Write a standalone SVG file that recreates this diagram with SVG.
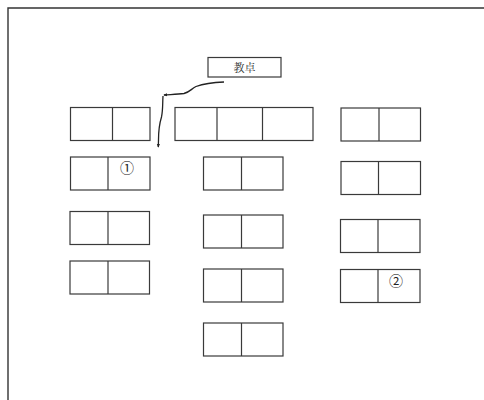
<svg xmlns="http://www.w3.org/2000/svg" width="484" height="400" viewBox="0 0 484 400">
<defs>
<marker id="ah" viewBox="0 0 10 10" refX="8" refY="5" markerWidth="4" markerHeight="4" orient="auto" markerUnits="userSpaceOnUse">
<path d="M0,1 L10,5 L0,9 Z" fill="#222"/>
</marker>
<style>
.d{fill:#fff;stroke:#3a3a3a;stroke-width:1.2}
.v{stroke:#3a3a3a;stroke-width:1.2}
.f{stroke:#333;stroke-width:1.4;fill:none}
.c{fill:none;stroke:#222;stroke-width:1.3}
.t{font-family:"Noto Serif CJK JP","Noto Sans CJK JP",serif;font-size:11px;fill:#333}
.n{font-family:"Noto Sans CJK JP",sans-serif;font-size:14px;fill:#222}
</style>
</defs>
<rect width="484" height="400" fill="#fff"/>
<g id="frame">
<path class="f" d="M8,400 L8,8 L484,8"/>
</g>
<g id="podium">
<rect class="d" x="208" y="57.5" width="73" height="19.5"/>
<text class="t" x="244.5" y="71.5" text-anchor="middle">教卓</text>
</g>
<g id="connectors">
<path class="c" d="M224,82 C212,82.5 203,84 196,86.5 C191,89 190,92 184,93.5 C177,94.5 170,94.5 164,95" marker-end="url(#ah)"/>
<path class="c" d="M163,96 C162.5,104 163,110 161.5,117 C159,125 158.5,132 158.5,140 L158.3,147" marker-end="url(#ah)"/>
</g>
<g id="desk-L1"><rect class="d" x="70.5" y="107.5" width="79.5" height="33"/><line class="v" x1="112.5" y1="107.5" x2="112.5" y2="140.5"/></g>
<g id="desk-L2"><rect class="d" x="70.5" y="157" width="79.5" height="33"/><line class="v" x1="108" y1="157" x2="108" y2="190"/><text class="n" x="127" y="173" text-anchor="middle">①</text></g>
<g id="desk-L3"><rect class="d" x="70" y="211.5" width="79.5" height="33"/><line class="v" x1="108" y1="211.5" x2="108" y2="244.5"/></g>
<g id="desk-L4"><rect class="d" x="70" y="261" width="79.5" height="33"/><line class="v" x1="108" y1="261" x2="108" y2="294"/></g>
<g id="desk-M1"><rect class="d" x="175" y="107.5" width="138" height="33"/><line class="v" x1="217" y1="107.5" x2="217" y2="140.5"/><line class="v" x1="262.5" y1="107.5" x2="262.5" y2="140.5"/></g>
<g id="desk-M2"><rect class="d" x="203.5" y="157" width="79.5" height="33"/><line class="v" x1="241.5" y1="157" x2="241.5" y2="190"/></g>
<g id="desk-M3"><rect class="d" x="203.5" y="215" width="79.5" height="33"/><line class="v" x1="241.5" y1="215" x2="241.5" y2="248"/></g>
<g id="desk-M4"><rect class="d" x="203.5" y="269" width="79.5" height="33"/><line class="v" x1="241.5" y1="269" x2="241.5" y2="302"/></g>
<g id="desk-M5"><rect class="d" x="203.5" y="323" width="79.5" height="33"/><line class="v" x1="241.5" y1="323" x2="241.5" y2="356"/></g>
<g id="desk-R1"><rect class="d" x="341" y="108" width="79.5" height="33"/><line class="v" x1="379" y1="108" x2="379" y2="141"/></g>
<g id="desk-R2"><rect class="d" x="341" y="161.5" width="79.5" height="33"/><line class="v" x1="378.5" y1="161.5" x2="378.5" y2="194.5"/></g>
<g id="desk-R3"><rect class="d" x="340.5" y="219.5" width="79.5" height="33"/><line class="v" x1="378" y1="219.5" x2="378" y2="252.5"/></g>
<g id="desk-R4"><rect class="d" x="340.5" y="269.5" width="79.5" height="33"/><line class="v" x1="378" y1="269.5" x2="378" y2="302.5"/>
<text class="n" x="396" y="286" text-anchor="middle">②</text></g>
</svg>
